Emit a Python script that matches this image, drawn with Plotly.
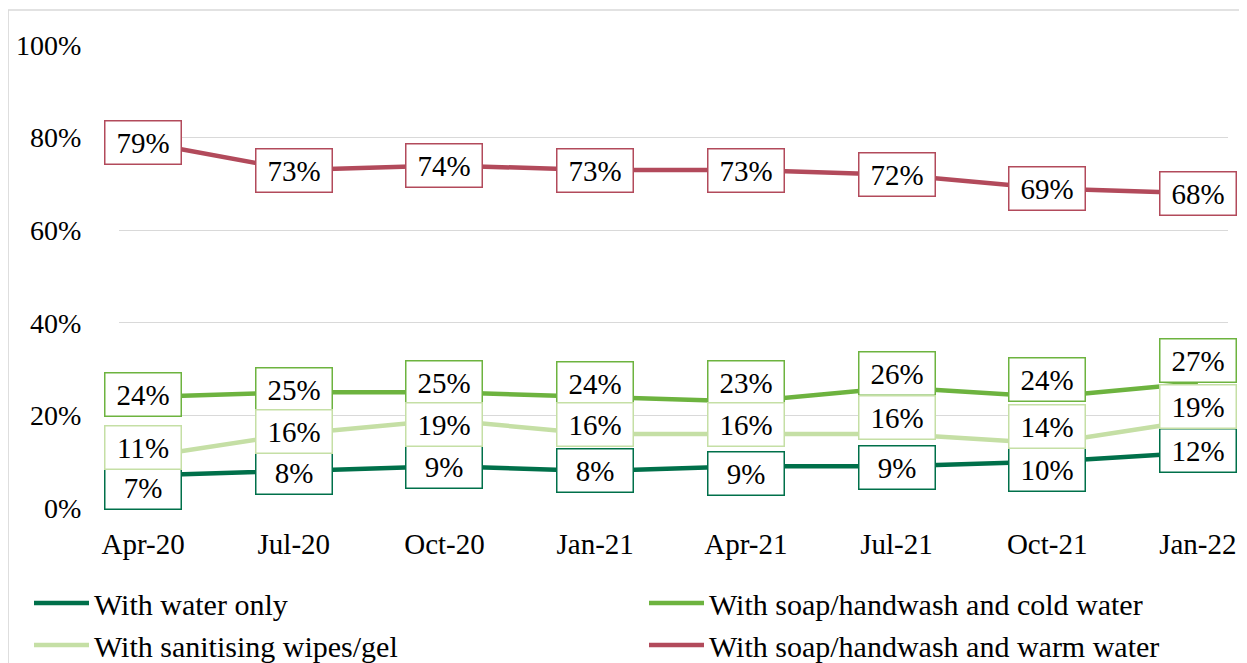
import plotly.graph_objects as go

periods = ["Apr-20", "Jul-20", "Oct-20", "Jan-21", "Apr-21", "Jul-21", "Oct-21", "Jan-22"]
water_only = [7, 8, 9, 8, 9, 9, 10, 12]
sanitising = [11, 16, 19, 16, 16, 16, 14, 19]
soap_cold = [24, 25, 25, 24, 23, 26, 24, 27]
soap_warm = [79, 73, 74, 73, 73, 72, 69, 68]

# label vertical offsets in px (positive = downwards), to avoid overlap like the reference
off_water = [12, 2, 0, 0, 7, 1, 8, -2]
off_sanit = [-10, -2, 4, -9, -9, -16, -17, -14]
off_cold = [-2, -3, -10, -13, -19, -14, -17, -22]
off_warm = [0, 0, 0, 0, 0, 0, 0, 0]

FONT = "Liberation Serif"
# page has an 8px body margin, so the figure is sized to fit inside the window
W, H = 1239, 655
# (name, values, colour, label offsets, legend id, legend x px, legend row centre y px)
series = [
    ("With water only", water_only, "#00704A", off_water, "legend", 21, 595),
    ("With soap/handwash and cold water", soap_cold, "#6DB33F", off_cold, "legend2", 636, 595),
    ("With sanitising wipes/gel", sanitising, "#C5DFA5", off_sanit, "legend3", 21, 637),
    ("With soap/handwash and warm water", soap_warm, "#B24A5B", off_warm, "legend4", 636, 637),
]

fig = go.Figure()
annotations = []
legends = {}
for name, vals, color, offs, lg, lx, ly in series:
    fig.add_trace(go.Scatter(
        x=periods, y=vals, mode="lines", name=name,
        line=dict(color=color, width=4.5), legend=lg,
        hoverinfo="skip",
    ))
    legends[lg] = dict(xref="container", yref="container", x=lx / W, xanchor="left",
                       y=1 - ly / H, yanchor="middle", itemwidth=55,
                       font=dict(family=FONT, size=30, color="black"),
                       bgcolor="rgba(0,0,0,0)")
    for p, v, o in zip(periods, vals, offs):
        annotations.append(dict(
            x=p, y=v, xref="x", yref="y", text=f"{v}%", showarrow=False,
            yshift=-o, font=dict(family=FONT, size=29, color="black"),
            bgcolor="white", bordercolor=color, borderwidth=1.5, borderpad=2,
            width=71, height=38, align="center", valign="middle",
        ))

fig.update_layout(
    width=W, height=H,
    margin=dict(l=111, r=19, t=37, b=155, autoexpand=False),
    paper_bgcolor="white", plot_bgcolor="white",
    font=dict(family=FONT, size=29, color="black"),
    annotations=annotations,
    showlegend=True,
    shapes=[dict(type="rect", xref="paper", yref="paper",
                 x0=-0.1, x1=1.0153, y0=-0.4, y1=1.0756,
                 line=dict(color="#D9D9D9", width=1.5), fillcolor="rgba(0,0,0,0)",
                 layer="below")],
    **legends,
)
fig.update_xaxes(type="category", range=[-0.16, 7.2], showgrid=False, showline=False,
                 zeroline=False, ticks="outside", ticklen=10, tickcolor="rgba(0,0,0,0)",
                 tickfont=dict(family=FONT, size=29, color="black"))
fig.update_yaxes(range=[0, 100], dtick=20, ticksuffix="%", showgrid=True,
                 gridcolor="#D9D9D9", gridwidth=1.2, zeroline=False, showline=False,
                 ticks="outside", ticklen=31, tickcolor="rgba(0,0,0,0)",
                 tickfont=dict(family=FONT, size=28, color="black"))

fig.write_html("out.html")
